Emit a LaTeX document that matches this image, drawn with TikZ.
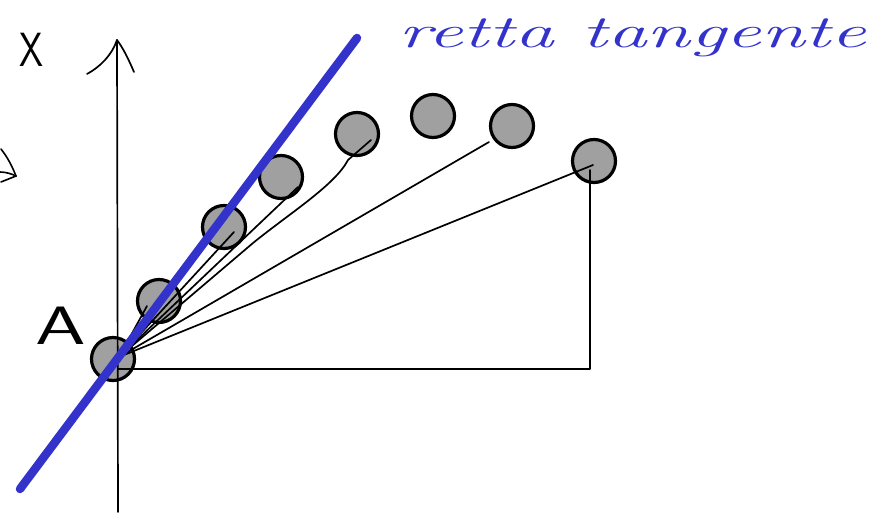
\documentclass[tikz,border=0pt]{standalone}
\usepackage{fontspec}
\definecolor{ballgray}{HTML}{A0A0A0}
\definecolor{penblue}{HTML}{3333CC}
\tikzset{
  ball/.style={circle, draw=black, line width=3.2pt, fill=ballgray, minimum size=43pt, inner sep=0pt},
  thinline/.style={draw=black, line width=1.7pt, line cap=round, line join=round},
  tangent/.style={draw=penblue, line width=8.5pt, line cap=round},
  hand/.style={inner sep=0pt, text=black}
}
\begin{document}
\begin{tikzpicture}[x=1pt, y=-1pt]
\useasboundingbox (0,0) rectangle (874,514);

% balls
\node[ball] (c1) at (113,359) {};
\node[ball] (c2) at (159,301) {};
\node[ball] (c3) at (224,227) {};
\node[ball] (c4) at (281,177) {};
\node[ball] (c5) at (357,134) {};
\node[ball] (c6) at (433,116) {};
\node[ball] (c7) at (512,126) {};
\node[ball] (c8) at (594,161) {};

% axes
\coordinate (ybot) at (118,512);
\coordinate (ytop) at (117,40);
\coordinate (aleft) at (87,74);
\coordinate (aright) at (134,72);
\coordinate (o) at (118,369);
\coordinate (xend) at (590,369);
\coordinate (vtop) at (590,170);
\draw[thinline] (ybot) -- (ytop);
\draw[thinline] (aleft) .. controls (100,67) and (112,55) .. (ytop) .. controls (123,48) and (128,58) .. (aright);
\draw[thinline] (o) -- (xend) -- (vtop);

% fan of lines from A
\coordinate (s) at (119,357);
\coordinate (e2) at (147,306);
\coordinate (e3) at (234,232);
\coordinate (e4) at (298,187);
\coordinate (e5) at (371,140);
\coordinate (e7) at (489,142);
\coordinate (e8) at (593,165);
\draw[thinline] (s) -- (e2);
\draw[thinline] (s) -- (e3);
\draw[thinline] (s) -- (e4);
\draw[thinline] (s) -- (253,243) .. controls (290,213) and (335,185) .. (348,160) -- (e5);
\draw[thinline] (s) -- (e7);
\draw[thinline] (s) -- (e8);

% tangent line
\coordinate (t1) at (20,489);
\coordinate (t2) at (357,38);
\draw[tangent] (t1) -- (t2);

% labels
\node[hand, font=\sffamily\fontsize{48}{48}\selectfont, xscale=0.8] (lx) at (31,50) {X};
\node[hand, font=\sffamily\fontsize{54}{54}\selectfont, xscale=1.5] (la) at (61,326) {A};
\node[font=\itshape\fontsize{46}{46}\selectfont, text=penblue, inner sep=0pt, anchor=west, xscale=1.72] (lt) at (398,38) {retta tangente};

% cut-off stroke at left edge
\draw[line width=1.6pt, line cap=round] (1,149) .. controls (8,158) and (12,166) .. (16,176) -- (1,182);
\draw[line width=1.6pt, line cap=round] (0,172) .. controls (6,172) and (12,174) .. (16,176);
\end{tikzpicture}
\end{document}
